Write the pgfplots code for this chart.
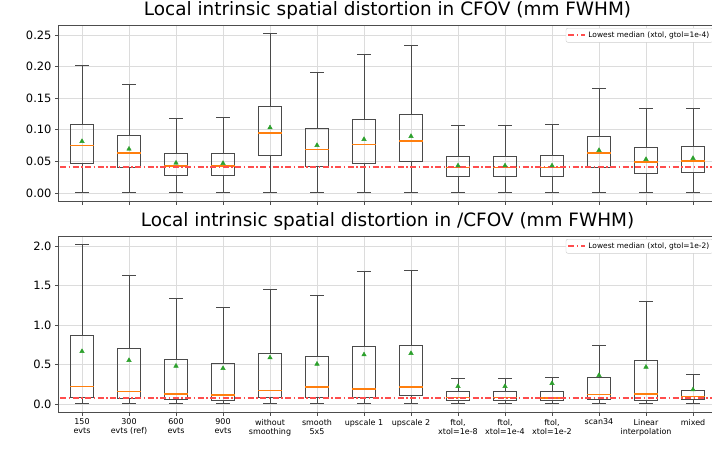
\documentclass[border=0pt]{standalone}
\usepackage{fontspec}
\setmainfont{DejaVu Sans}
\usepackage{pgfplots}
\pgfplotsset{compat=1.18}
\usepgfplotslibrary{statistics}
\definecolor{mplorange}{HTML}{FF7F0E}
\definecolor{mplgreen}{HTML}{2CA02C}
\definecolor{mplred}{HTML}{FF4D4D}
\definecolor{gridgray}{HTML}{DCDCDC}
\definecolor{spine}{HTML}{4D4D4D}
\definecolor{boxgray}{HTML}{4A4A4A}
\pgfplotsset{
  common/.style={
    scale only axis, width=658bp, height=176bp,
    xmin=0.5, xmax=14.5,
    xtick={1,...,14},
    grid=major, grid style={color=gridgray, line width=0.8bp},
    axis line style={color=spine, line width=0.8bp},
    tick style={color=spine, line width=0.8bp},
    tick align=outside, major tick length=3.5bp,
    tick pos=left,
    yticklabel style={font=\fontsize{11.5}{13}\selectfont},
    /pgf/number format/assume math mode=true,
    boxplot/draw direction=y,
    boxplot/box extend=0.5,
    boxplot/whisker extend=0.28,
    boxplot/every median/.style={color=mplorange, line width=1.4bp},
    legend style={at={(1,1)}, anchor=north east, xshift=-3.5bp, yshift=-3bp,
      draw=black!20, rounded corners=2bp, font=\fontsize{7.5}{9}\selectfont,
      inner sep=1.5bp},
    legend cell align=left,
    title style={at={(0.5,1)}, anchor=base, yshift=4bp,
      font=\fontsize{18.5}{22}\selectfont},
  },
  mybxstyle/.style={color=boxgray, line width=0.9bp, forget plot, solid, boxplot/draw direction=y},
  mymeanstyle/.style={only marks, mark=triangle*, mark size=2.6bp, color=mplgreen, forget plot},
  myredline/.style={color=mplred, line width=2bp, dash pattern=on 6bp off 2.5bp on 1.5bp off 2.5bp, mark=none},
}
\newcommand{\mybox}[6]{\addplot[mybxstyle, boxplot prepared={draw position=#1, lower whisker=#2, lower quartile=#3, median=#4, upper quartile=#5, upper whisker=#6}] coordinates {};}
\begin{document}
\begin{tikzpicture}
\path[use as bounding box] (0,0) rectangle (712bp,-458bp);
\begin{axis}[common, at={(58.5bp,-25bp)}, anchor=north west,
  ymin=-0.01265, ymax=0.2657,
  ytick={0,0.05,0.10,0.15,0.20,0.25},
  yticklabel style={/pgf/number format/.cd, fixed, fixed zerofill, precision=2},
  xticklabels={},
  title={Local intrinsic spatial distortion in CFOV (mm FWHM)}]
\mybox{1}{0.001}{0.047}{0.0749}{0.1087}{0.2015}
\mybox{2}{0.001}{0.040}{0.0633}{0.0918}{0.171}
\mybox{3}{0.001}{0.028}{0.043}{0.0628}{0.1176}
\mybox{4}{0.001}{0.027}{0.043}{0.0628}{0.1187}
\mybox{5}{0.001}{0.060}{0.095}{0.137}{0.253}
\mybox{6}{0.001}{0.0427}{0.069}{0.1018}{0.190}
\mybox{7}{0.001}{0.0475}{0.077}{0.1166}{0.2194}
\mybox{8}{0.001}{0.050}{0.0823}{0.124}{0.2326}
\mybox{9}{0.001}{0.0258}{0.0406}{0.058}{0.1065}
\mybox{10}{0.001}{0.0258}{0.0405}{0.058}{0.1065}
\mybox{11}{0.001}{0.0258}{0.0406}{0.059}{0.1087}
\mybox{12}{0.001}{0.0406}{0.0633}{0.0897}{0.1646}
\mybox{13}{0.001}{0.031}{0.049}{0.0717}{0.133}
\mybox{14}{0.001}{0.0327}{0.0506}{0.0738}{0.134}
\addplot[myredline] coordinates {(0,0.0405) (15,0.0405)};
\addlegendentry{Lowest median (xtol, gtol=1e-4)}
\addplot[mymeanstyle] coordinates {(1,0.0817) (2,0.0696) (3,0.0475) (4,0.047) (5,0.1034) (6,0.0754) (7,0.0849) (8,0.0897) (9,0.0432) (10,0.0432) (11,0.0432) (12,0.0675) (13,0.0533) (14,0.0549)};
\end{axis}
\begin{axis}[common, at={(58.5bp,-236bp)}, anchor=north west,
  ymin=-0.1015, ymax=2.1315,
  ytick={0,0.5,1.0,1.5,2.0},
  yticklabel style={/pgf/number format/.cd, fixed, fixed zerofill, precision=1},
  xticklabels={{150\\evts},{300\\evts (ref)},{600\\evts},{900\\evts},{without\\smoothing},{smooth\\5x5},{upscale 1},{upscale 2},{ftol,\\xtol=1e-8},{ftol,\\xtol=1e-4},{ftol,\\xtol=1e-2},{scan34},{Linear\\interpolation},{mixed}},
  xticklabel style={font=\fontsize{8}{9}\selectfont, align=center, anchor=north},
  title={Local intrinsic spatial distortion in /CFOV (mm FWHM)}]
\mybox{1}{0.003}{0.089}{0.224}{0.867}{2.03}
\mybox{2}{0.003}{0.076}{0.161}{0.702}{1.628}
\mybox{3}{0.003}{0.055}{0.127}{0.567}{1.336}
\mybox{4}{0.003}{0.051}{0.114}{0.52}{1.23}
\mybox{5}{0.003}{0.089}{0.169}{0.643}{1.459}
\mybox{6}{0.003}{0.089}{0.216}{0.609}{1.374}
\mybox{7}{0.003}{0.089}{0.19}{0.736}{1.683}
\mybox{8}{0.003}{0.106}{0.216}{0.748}{1.691}
\mybox{9}{0.003}{0.047}{0.08}{0.156}{0.326}
\mybox{10}{0.003}{0.047}{0.08}{0.156}{0.326}
\mybox{11}{0.003}{0.047}{0.076}{0.156}{0.338}
\mybox{12}{0.003}{0.063}{0.123}{0.342}{0.748}
\mybox{13}{0.003}{0.051}{0.127}{0.554}{1.307}
\mybox{14}{0.003}{0.055}{0.093}{0.178}{0.372}
\addplot[myredline] coordinates {(0,0.080) (15,0.080)};
\addlegendentry{Lowest median (xtol, gtol=1e-2)}
\addplot[mymeanstyle] coordinates {(1,0.668) (2,0.554) (3,0.482) (4,0.452) (5,0.588) (6,0.507) (7,0.626) (8,0.643) (9,0.224) (10,0.224) (11,0.262) (12,0.364) (13,0.469) (14,0.182)};
\end{axis}
\end{tikzpicture}
\end{document}
